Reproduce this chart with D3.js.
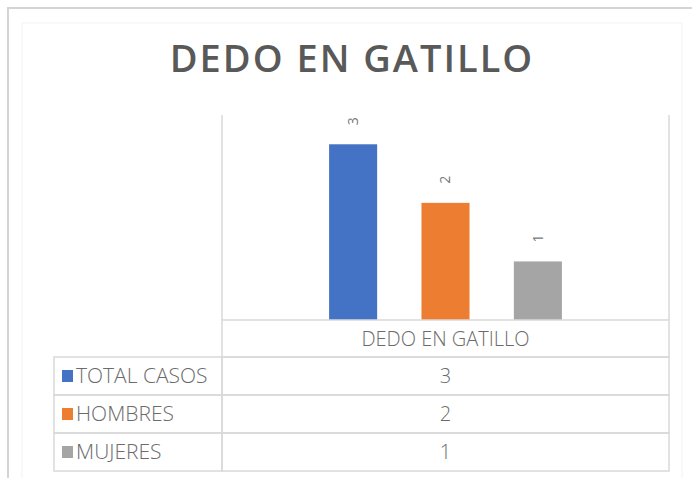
<!DOCTYPE html>
<html>
<head>
<meta charset="utf-8">
<script src="https://cdn.jsdelivr.net/npm/d3@7"></script>
<style>
  body { margin: 0; background: #fff; }
  text { font-family: "Open Sans", "Noto Sans", sans-serif; fill: #595959; }
</style>
</head>
<body>
<svg id="chart"></svg>
<script>
// chart data
const category = 'DEDO EN GATILLO';
const seriesNames = ['TOTAL CASOS', 'HOMBRES', 'MUJERES'];
const seriesValues = [3, 2, 1];
const seriesColors = ['#4472C4', '#ED7D31', '#A5A5A5'];
const yDomain = [0, 3.5];

const width = 692, height = 478;
const svg = d3.select('#chart').attr('width', width).attr('height', height);

// outer chart frame
svg.append('rect')
  .attr('x', 8).attr('y', 8).attr('width', 700).attr('height', 500)
  .attr('fill', 'none').attr('stroke', '#d4d4d4').attr('stroke-width', 2);
svg.append('rect')
  .attr('x', 22).attr('y', 23).attr('width', 660).attr('height', 470)
  .attr('fill', 'none').attr('stroke', '#f3f3f3').attr('stroke-width', 1);

// title
svg.append('text')
  .attr('x', 352).attr('y', 72)
  .attr('text-anchor', 'middle')
  .style('font-size', '38px')
  .style('font-weight', 600)
  .style('letter-spacing', '2px')
  .text(category);

// plot area
const plot = { left: 222, right: 669, top: 115, bottom: 320 };

const x = d3.scaleBand()
  .domain([category])
  .range([plot.left, plot.right]);

const bw = x.bandwidth();
const xs = d3.scaleBand()
  .domain(seriesNames)
  .range([x(category) + bw * 0.19, x(category) + bw * 0.81])
  .paddingInner(0.48)
  .paddingOuter(0.24);

const y = d3.scaleLinear()
  .domain(yDomain)
  .range([plot.bottom, plot.top]);

// plot border lines (left / right)
svg.append('g').selectAll('line')
  .data(x.range())
  .join('line')
  .attr('x1', d => d).attr('x2', d => d)
  .attr('y1', plot.top).attr('y2', plot.bottom)
  .attr('stroke', '#d9d9d9').attr('stroke-width', 1.5);

const data = seriesNames.map((s, i) => ({ name: s, value: seriesValues[i], color: seriesColors[i] }));

svg.append('g').selectAll('rect')
  .data(data)
  .join('rect')
  .attr('x', d => xs(d.name))
  .attr('y', d => y(d.value))
  .attr('width', xs.bandwidth())
  .attr('height', d => y(0) - y(d.value))
  .attr('fill', d => d.color);

// rotated data labels
svg.append('g').selectAll('text')
  .data(data)
  .join('text')
  .attr('transform', d => `translate(${xs(d.name) + xs.bandwidth() / 2},${y(d.value) - 23}) rotate(-90)`)
  .attr('text-anchor', 'middle')
  .attr('dy', '0.35em')
  .style('font-size', '14px')
  .style('fill', '#777')
  .text(d => d.value);

// data table
const table = { left: 54, top: plot.bottom, headerH: 37, rowH: 38 };
const rowsTop = table.top + table.headerH;
const lineColor = '#d9d9d9';
const cellText = '#6b6b6b';
const tg = svg.append('g');

// header cell
tg.append('rect')
  .attr('x', plot.left).attr('y', table.top)
  .attr('width', plot.right - plot.left).attr('height', table.headerH)
  .attr('fill', 'none').attr('stroke', lineColor).attr('stroke-width', 1.5);
tg.append('text')
  .attr('x', x(category) + bw / 2)
  .attr('y', table.top + table.headerH / 2)
  .attr('dy', '0.35em')
  .attr('text-anchor', 'middle')
  .style('font-size', '20px')
  .style('font-weight', 300)
  .style('fill', cellText)
  .text(category);

// rows
const rows = tg.selectAll('g.row')
  .data(data)
  .join('g')
  .attr('class', 'row')
  .attr('transform', (d, i) => `translate(0,${rowsTop + i * table.rowH})`);

rows.append('rect')
  .attr('x', table.left).attr('y', 0)
  .attr('width', plot.left - table.left).attr('height', table.rowH)
  .attr('fill', 'none').attr('stroke', lineColor).attr('stroke-width', 1.5);
rows.append('rect')
  .attr('x', plot.left).attr('y', 0)
  .attr('width', plot.right - plot.left).attr('height', table.rowH)
  .attr('fill', 'none').attr('stroke', lineColor).attr('stroke-width', 1.5);

rows.append('rect')
  .attr('x', 62).attr('y', table.rowH / 2 - 6)
  .attr('width', 11).attr('height', 12)
  .attr('fill', d => d.color);
rows.append('text')
  .attr('x', 76).attr('y', table.rowH / 2)
  .attr('dy', '0.35em')
  .style('font-size', '21px')
  .style('font-weight', 300)
  .style('fill', cellText)
  .text(d => d.name);
rows.append('text')
  .attr('x', x(category) + bw / 2).attr('y', table.rowH / 2)
  .attr('dy', '0.35em')
  .attr('text-anchor', 'middle')
  .style('font-size', '20px')
  .style('font-weight', 300)
  .style('fill', cellText)
  .text(d => d.value);
</script>
</body>
</html>
